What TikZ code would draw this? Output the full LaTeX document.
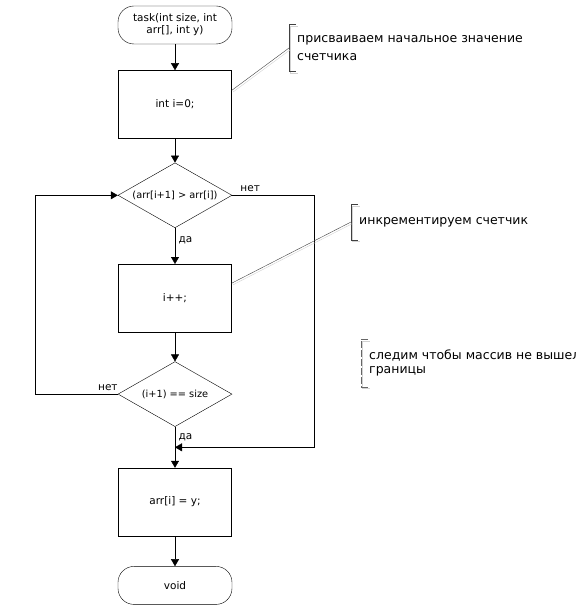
\documentclass[tikz,border=0pt]{standalone}
\usepackage{fontspec}
\setmainfont{DejaVu Sans}
\usetikzlibrary{shapes.geometric, arrows.meta, positioning, calc}

\begin{document}
\begin{tikzpicture}[
    x=1pt, y=-1pt,
    font=\fontsize{10.5}{12}\selectfont,
    block/.style={rectangle, draw, minimum width=113pt, minimum height=68pt, align=center},
    decision/.style={diamond, draw, aspect=1.75, minimum width=114pt, minimum height=65pt, inner sep=0pt, align=center, font=\fontsize{9.8}{12}\selectfont},
    terminal/.style={rectangle, draw, rounded corners=16pt, minimum width=114pt, minimum height=38pt, align=center},
    line/.style={-{Triangle[length=7pt, width=8pt]}},
    note/.style={align=left, anchor=west, inner xsep=8pt, inner ysep=0pt, font=\fontsize{12.5}{18}\selectfont},
    shadowed/.style={preaction={draw=gray!35, transform canvas={shift={(1.5pt,-1.5pt)}}}},
    bracket/.style={draw=black!75, shadowed},
]
\useasboundingbox (0,0) rectangle (575,607);

% main flow
\node[terminal] (start) at (175,25) {task(int size, int\\arr[], int y)};
\node[block, below=26pt of start] (init) {int i=0;};
\node[decision, below=24pt of init] (check) {(arr[i+1] > arr[i])};
\node[block, below=36pt of check] (incr) {i++;};
\node[decision, below=29pt of incr] (last) {(i+1) == size};
\node[block, below=41pt of last] (assign) {arr[i] = y;};
\node[terminal, below=30pt of assign] (stop) {void};

\coordinate (railL) at (35,0);
\coordinate (railR) at (314,0);
\coordinate (join) at ($(last.south)!0.5!(assign.north)$);

\draw[line] (start) -- (init);
\draw[line] (init) -- (check);
\draw[line] (check) -- node[right, pos=0.35] {да} (incr);
\draw[line] (incr) -- (last);
\draw[line] (last) -- node[right, pos=0.25] {да} (assign);
\draw[line] (assign) -- (stop);
\draw[line] (check.east) -- node[above, pos=0.22] {нет} (check.east -| railR) |- (join);
\draw[line] (last.west) -- node[above, pos=0.12] {нет} (last.west -| railL) |- (check.west);

% comments
\node[note, minimum height=47pt] (note1) at (289,48) {присваиваем начальное значение\\счетчика};
\node[note, minimum height=35pt] (note2) at (351,222) {инкрементируем счетчик};
\node[note, minimum height=47pt, font=\fontsize{12.5}{14}\selectfont] (note3) at (361,363) {следим чтобы массив не вышел за\\границы};

\draw[bracket] ([xshift=7pt]note1.north west) -- (note1.north west) -- (note1.south west) -- ++(7pt,0);
\draw[bracket] ([xshift=7pt]note2.north west) -- (note2.north west) -- (note2.south west) -- ++(7pt,0);
\draw[draw=black!60, dash pattern=on 7pt off 2pt, shadowed] ([xshift=7pt]note3.north west) -- (note3.north west) -- (note3.south west) -- ++(7pt,0);

\draw[draw=black!75, shadowed] ([yshift=14pt]init.east) -- (note1.west);
\draw[draw=black!75, shadowed] ([yshift=15pt]incr.east) -- (note2.west);

\end{tikzpicture}
\end{document}
